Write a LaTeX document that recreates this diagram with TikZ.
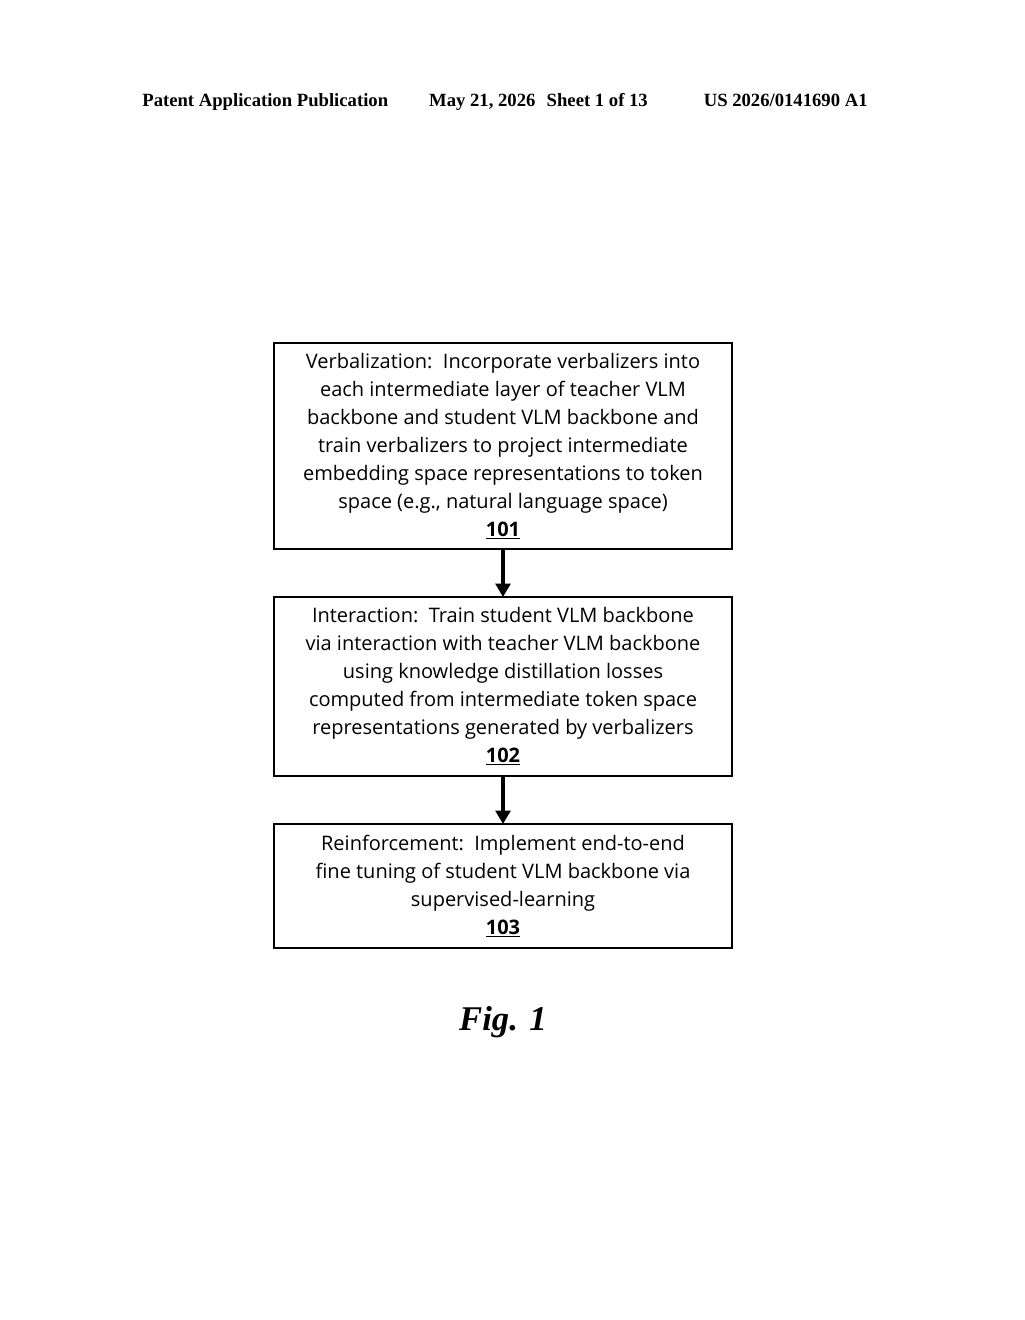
\documentclass[tikz,border=0pt]{standalone}
\usepackage{fontspec}
\setmainfont{Liberation Serif}
\newfontfamily\boxfont{Open Sans}
\usetikzlibrary{arrows.meta}
\begin{document}
\begin{tikzpicture}[x=0.75pt,y=-0.75pt,
  stepbox/.style={draw,line width=1.5pt,rectangle,minimum width=343.5pt,inner sep=0pt},
  boxtext/.style={align=center,font=\boxfont\fontsize{15}{21}\selectfont},
  flow/.style={line width=3pt,-{Triangle[length=10pt,width=11pt]}}]
\useasboundingbox (0,0) rectangle (1024,1320);
\node[font=\bfseries\fontsize{14}{16}\selectfont,anchor=base] (hdr) at (505,107) {Patent Application Publication\hspace{2.2em}May 21, 2026\hspace{0.6em}Sheet 1 of 13\hspace{3em}US 2026/0141690 A1};
\draw[stepbox] (274,343) rectangle (732,549);
\draw[stepbox] (274,597) rectangle (732,776);
\draw[stepbox] (274,824) rectangle (732,948);
\coordinate (b1s) at (503,549); \coordinate (b2n) at (503,597);
\coordinate (b2s) at (503,776); \coordinate (b3n) at (503,824);
\node[boxtext] (t1) at (503,446) {Verbalization:\ \ Incorporate verbalizers into\\each intermediate layer of teacher VLM\\backbone and student VLM backbone and\\train verbalizers to project intermediate\\embedding space representations to token\\space (e.g., natural language space)\\\textbf{\underline{101}}};
\node[boxtext] (t2) at (503,686) {Interaction:\ \ Train student VLM backbone\\via interaction with teacher VLM backbone\\using knowledge distillation losses\\computed from intermediate token space\\representations generated by verbalizers\\\textbf{\underline{102}}};
\node[boxtext] (t3) at (503,886) {Reinforcement:\ \ Implement end-to-end\\fine tuning of student VLM backbone via\\supervised-learning\\\textbf{\underline{103}}};
\draw[flow] (b1s) -- (b2n);
\draw[flow] (b2s) -- (b3n);
\node[font=\bfseries\itshape\fontsize{26}{30}\selectfont] (fig) at (503,1022) {Fig. 1};
\end{tikzpicture}
\end{document}
